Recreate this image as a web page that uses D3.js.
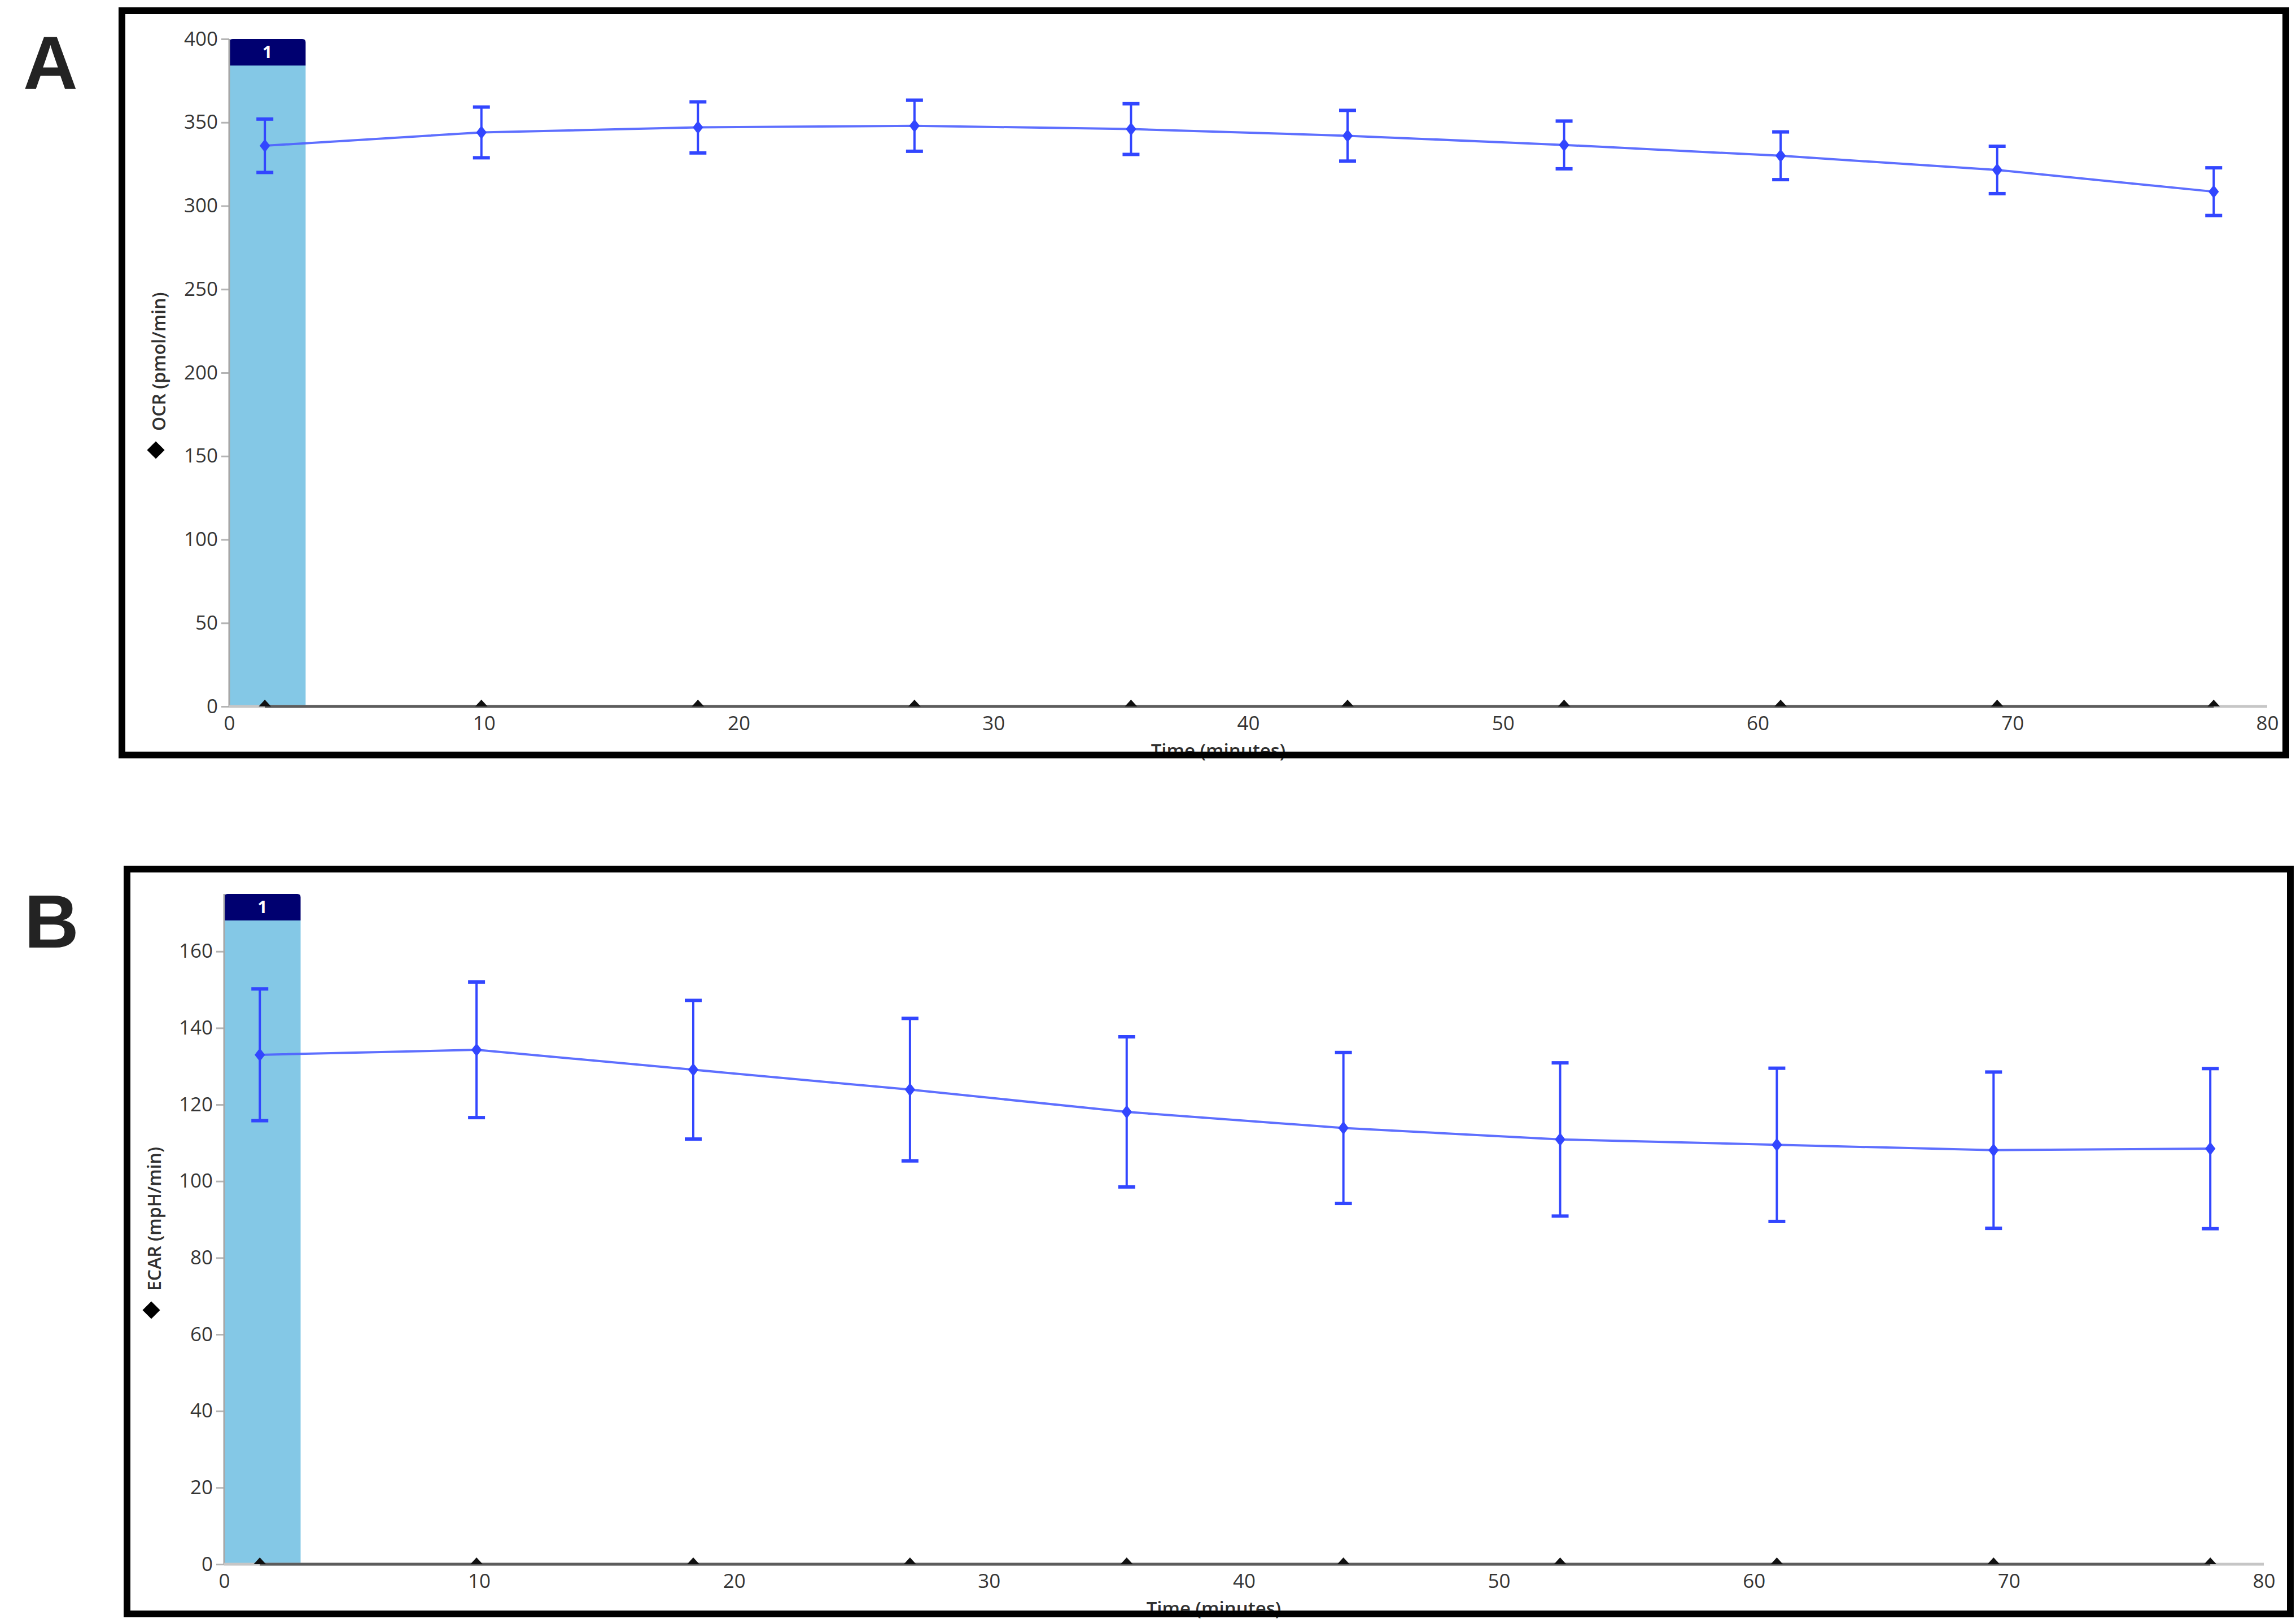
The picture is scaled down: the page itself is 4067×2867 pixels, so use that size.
<!DOCTYPE html>
<html>
<head>
<meta charset="utf-8">
<script src="https://cdn.jsdelivr.net/npm/d3@7"></script>
<style>
  body { margin: 0; background: #fff; }
  svg { display: block; }
</style>
</head>
<body>
<script>
// measurement times (minutes)
const times = [1.4, 9.9, 18.4, 26.9, 35.4, 43.9, 52.4, 60.9, 69.4, 77.9];

// OCR (pmol/min) mean and error
const ocrMean = [336, 344, 347, 348, 346, 342, 336.5, 330, 321.5, 308.5];
const ocrErr = [16, 15.2, 15.3, 15.3, 15.2, 15.2, 14.3, 14.3, 14.2, 14.3];

// ECAR (mpH/min) mean and error
const ecarMean = [133, 134.3, 129.1, 123.9, 118.1, 113.9, 110.9, 109.5, 108.1, 108.5];
const ecarErr = [17.2, 17.7, 18.1, 18.6, 19.6, 19.7, 20, 20, 20.4, 20.9];

// axis ticks
const ocrTicks = [0, 50, 100, 150, 200, 250, 300, 350, 400];
const ecarTicks = [0, 20, 40, 60, 80, 100, 120, 140, 160];
const timeTicks = [0, 10, 20, 30, 40, 50, 60, 70, 80];

// injection window
const injections = [{ label: '1', start: 0, end: 3 }];

const font = "'Open Sans', 'Segoe UI', sans-serif";
const blue = '#3246ff';

const svg = d3.select('body').append('svg')
  .attr('width', 4067)
  .attr('height', 2867);

const panels = [
  {
    letter: 'A', letterX: 41, letterY: 158,
    box: [216, 19, 3833, 1318],
    xRange: [406, 4016], yRange: [1251, 69], yMax: 400,
    ticks: ocrTicks, mean: ocrMean, err: ocrErr,
    title: 'OCR (pmol/min)', titleX: 281, legendY: 797, xTitleX: 2158
  },
  {
    letter: 'B', letterX: 43, letterY: 1678,
    box: [225, 1539, 3832, 1319],
    xRange: [397, 4010], yRange: [2770, 1583], yMax: 175,
    ticks: ecarTicks, mean: ecarMean, err: ecarErr,
    title: 'ECAR (mpH/min)', titleX: 273, legendY: 2320, xTitleX: 2150
  }
];

panels.forEach(drawPanel);

function drawPanel(p) {
  const g = svg.append('g');
  const x = d3.scaleLinear().domain([0, 80]).range(p.xRange);
  const y = d3.scaleLinear().domain([0, p.yMax]).range(p.yRange);
  const y0 = y(0);
  const headerH = 47;

  // panel letter
  svg.append('text')
    .attr('x', p.letterX)
    .attr('y', p.letterY)
    .attr('font-family', "'Liberation Sans', Arial, sans-serif")
    .attr('font-weight', 'bold')
    .attr('font-size', 134)
    .attr('fill', '#232323')
    .text(p.letter);

  // injection band + header
  injections.forEach(inj => {
    g.append('rect')
      .attr('x', x(inj.start))
      .attr('y', y(p.yMax) + headerH)
      .attr('width', x(inj.end) - x(inj.start))
      .attr('height', y0 - y(p.yMax) - headerH)
      .attr('fill', '#84c8e6');

    g.append('path')
      .attr('d', () => {
        const x1 = x(inj.start), x2 = x(inj.end), t = y(p.yMax), b = t + headerH, r = 6;
        return `M${x1},${b}V${t + r}Q${x1},${t} ${x1 + r},${t}H${x2 - r}Q${x2},${t} ${x2},${t + r}V${b}Z`;
      })
      .attr('fill', '#000070');

    g.append('text')
      .attr('x', (x(inj.start) + x(inj.end)) / 2)
      .attr('y', y(p.yMax) + headerH / 2)
      .attr('dy', '0.36em')
      .attr('text-anchor', 'middle')
      .attr('font-family', font)
      .attr('font-weight', 'bold')
      .attr('font-size', 30)
      .attr('fill', '#fff')
      .text(inj.label);
  });

  // y axis
  const yAxis = g.append('g')
    .attr('transform', `translate(${x(0)},0)`)
    .call(d3.axisLeft(y).tickValues(p.ticks).tickSize(14).tickPadding(6).tickFormat(d3.format('d')));
  yAxis.select('.domain').remove();
  yAxis.selectAll('.tick line').attr('stroke', '#b4b4b4').attr('stroke-width', 3);
  yAxis.selectAll('.tick text')
    .attr('font-family', font)
    .attr('font-size', 35)
    .attr('fill', '#353535');

  g.append('line')
    .attr('x1', x(0)).attr('x2', x(0))
    .attr('y1', y0).attr('y2', y(p.yMax))
    .attr('stroke', '#a6a6a6')
    .attr('stroke-width', 3);

  // x axis labels
  const xAxis = g.append('g')
    .attr('transform', `translate(0,${y0})`)
    .call(d3.axisBottom(x).tickValues(timeTicks).tickSize(0).tickPadding(17));
  xAxis.select('.domain').remove();
  xAxis.selectAll('.tick text')
    .attr('font-family', font)
    .attr('font-size', 35)
    .attr('fill', '#353535');

  // time line: light full span, dark between first and last measurement
  g.append('line')
    .attr('x1', x(0)).attr('x2', x(80))
    .attr('y1', y0).attr('y2', y0)
    .attr('stroke', '#c6c6c6')
    .attr('stroke-width', 5);
  g.append('line')
    .attr('x1', x(times[0])).attr('x2', x(times[times.length - 1]))
    .attr('y1', y0).attr('y2', y0)
    .attr('stroke', '#5c5c5c')
    .attr('stroke-width', 5);

  // measurement markers on the time line
  g.selectAll('path.tri')
    .data(times)
    .enter()
    .append('path')
    .attr('class', 'tri')
    .attr('d', d => `M${x(d) - 11},${y0}L${x(d)},${y0 - 12}L${x(d) + 11},${y0}Z`)
    .attr('fill', '#111');

  const pts = times.map((t, i) => ({ t: t, m: p.mean[i], e: p.err[i] }));

  // connecting line
  g.append('path')
    .datum(pts)
    .attr('d', d3.line().x(d => x(d.t)).y(d => y(d.m)))
    .attr('fill', 'none')
    .attr('stroke', '#4d5fff')
    .attr('stroke-opacity', 0.9)
    .attr('stroke-width', 4);

  // error bars
  const eb = g.append('g')
    .selectAll('g')
    .data(pts)
    .enter()
    .append('g')
    .attr('stroke', blue);
  eb.append('line')
    .attr('x1', d => x(d.t)).attr('x2', d => x(d.t))
    .attr('y1', d => y(d.m - d.e)).attr('y2', d => y(d.m + d.e))
    .attr('stroke-width', 4);
  eb.append('line')
    .attr('x1', d => x(d.t) - 15).attr('x2', d => x(d.t) + 15)
    .attr('y1', d => y(d.m + d.e)).attr('y2', d => y(d.m + d.e))
    .attr('stroke-width', 6);
  eb.append('line')
    .attr('x1', d => x(d.t) - 15).attr('x2', d => x(d.t) + 15)
    .attr('y1', d => y(d.m - d.e)).attr('y2', d => y(d.m - d.e))
    .attr('stroke-width', 6);

  // diamonds
  g.selectAll('path.pt')
    .data(pts)
    .enter()
    .append('path')
    .attr('class', 'pt')
    .attr('transform', d => `translate(${x(d.t)},${y(d.m)}) scale(0.85,1.1)`)
    .attr('d', d3.symbol(d3.symbolDiamond2, 300))
    .attr('fill', blue);

  // y axis title with legend diamond
  g.append('path')
    .attr('transform', `translate(${p.titleX - 5},${p.legendY})`)
    .attr('d', d3.symbol(d3.symbolDiamond2, 620))
    .attr('fill', '#000');
  g.append('text')
    .attr('transform', `translate(${p.titleX},${p.legendY - 34}) rotate(-90)`)
    .attr('dy', '0.36em')
    .attr('text-anchor', 'start')
    .attr('font-family', font)
    .attr('font-weight', 600)
    .attr('font-size', 32)
    .attr('fill', '#303030')
    .text(p.title);

  // x axis title (cut by the frame)
  g.append('text')
    .attr('x', p.xTitleX)
    .attr('y', y0 + 90)
    .attr('text-anchor', 'middle')
    .attr('font-family', font)
    .attr('font-weight', 600)
    .attr('font-size', 33)
    .attr('fill', '#303030')
    .text('Time (minutes)');

  // frame
  svg.append('rect')
    .attr('x', p.box[0])
    .attr('y', p.box[1])
    .attr('width', p.box[2])
    .attr('height', p.box[3])
    .attr('fill', 'none')
    .attr('stroke', '#000')
    .attr('stroke-width', 12);
}
</script>
</body>
</html>
